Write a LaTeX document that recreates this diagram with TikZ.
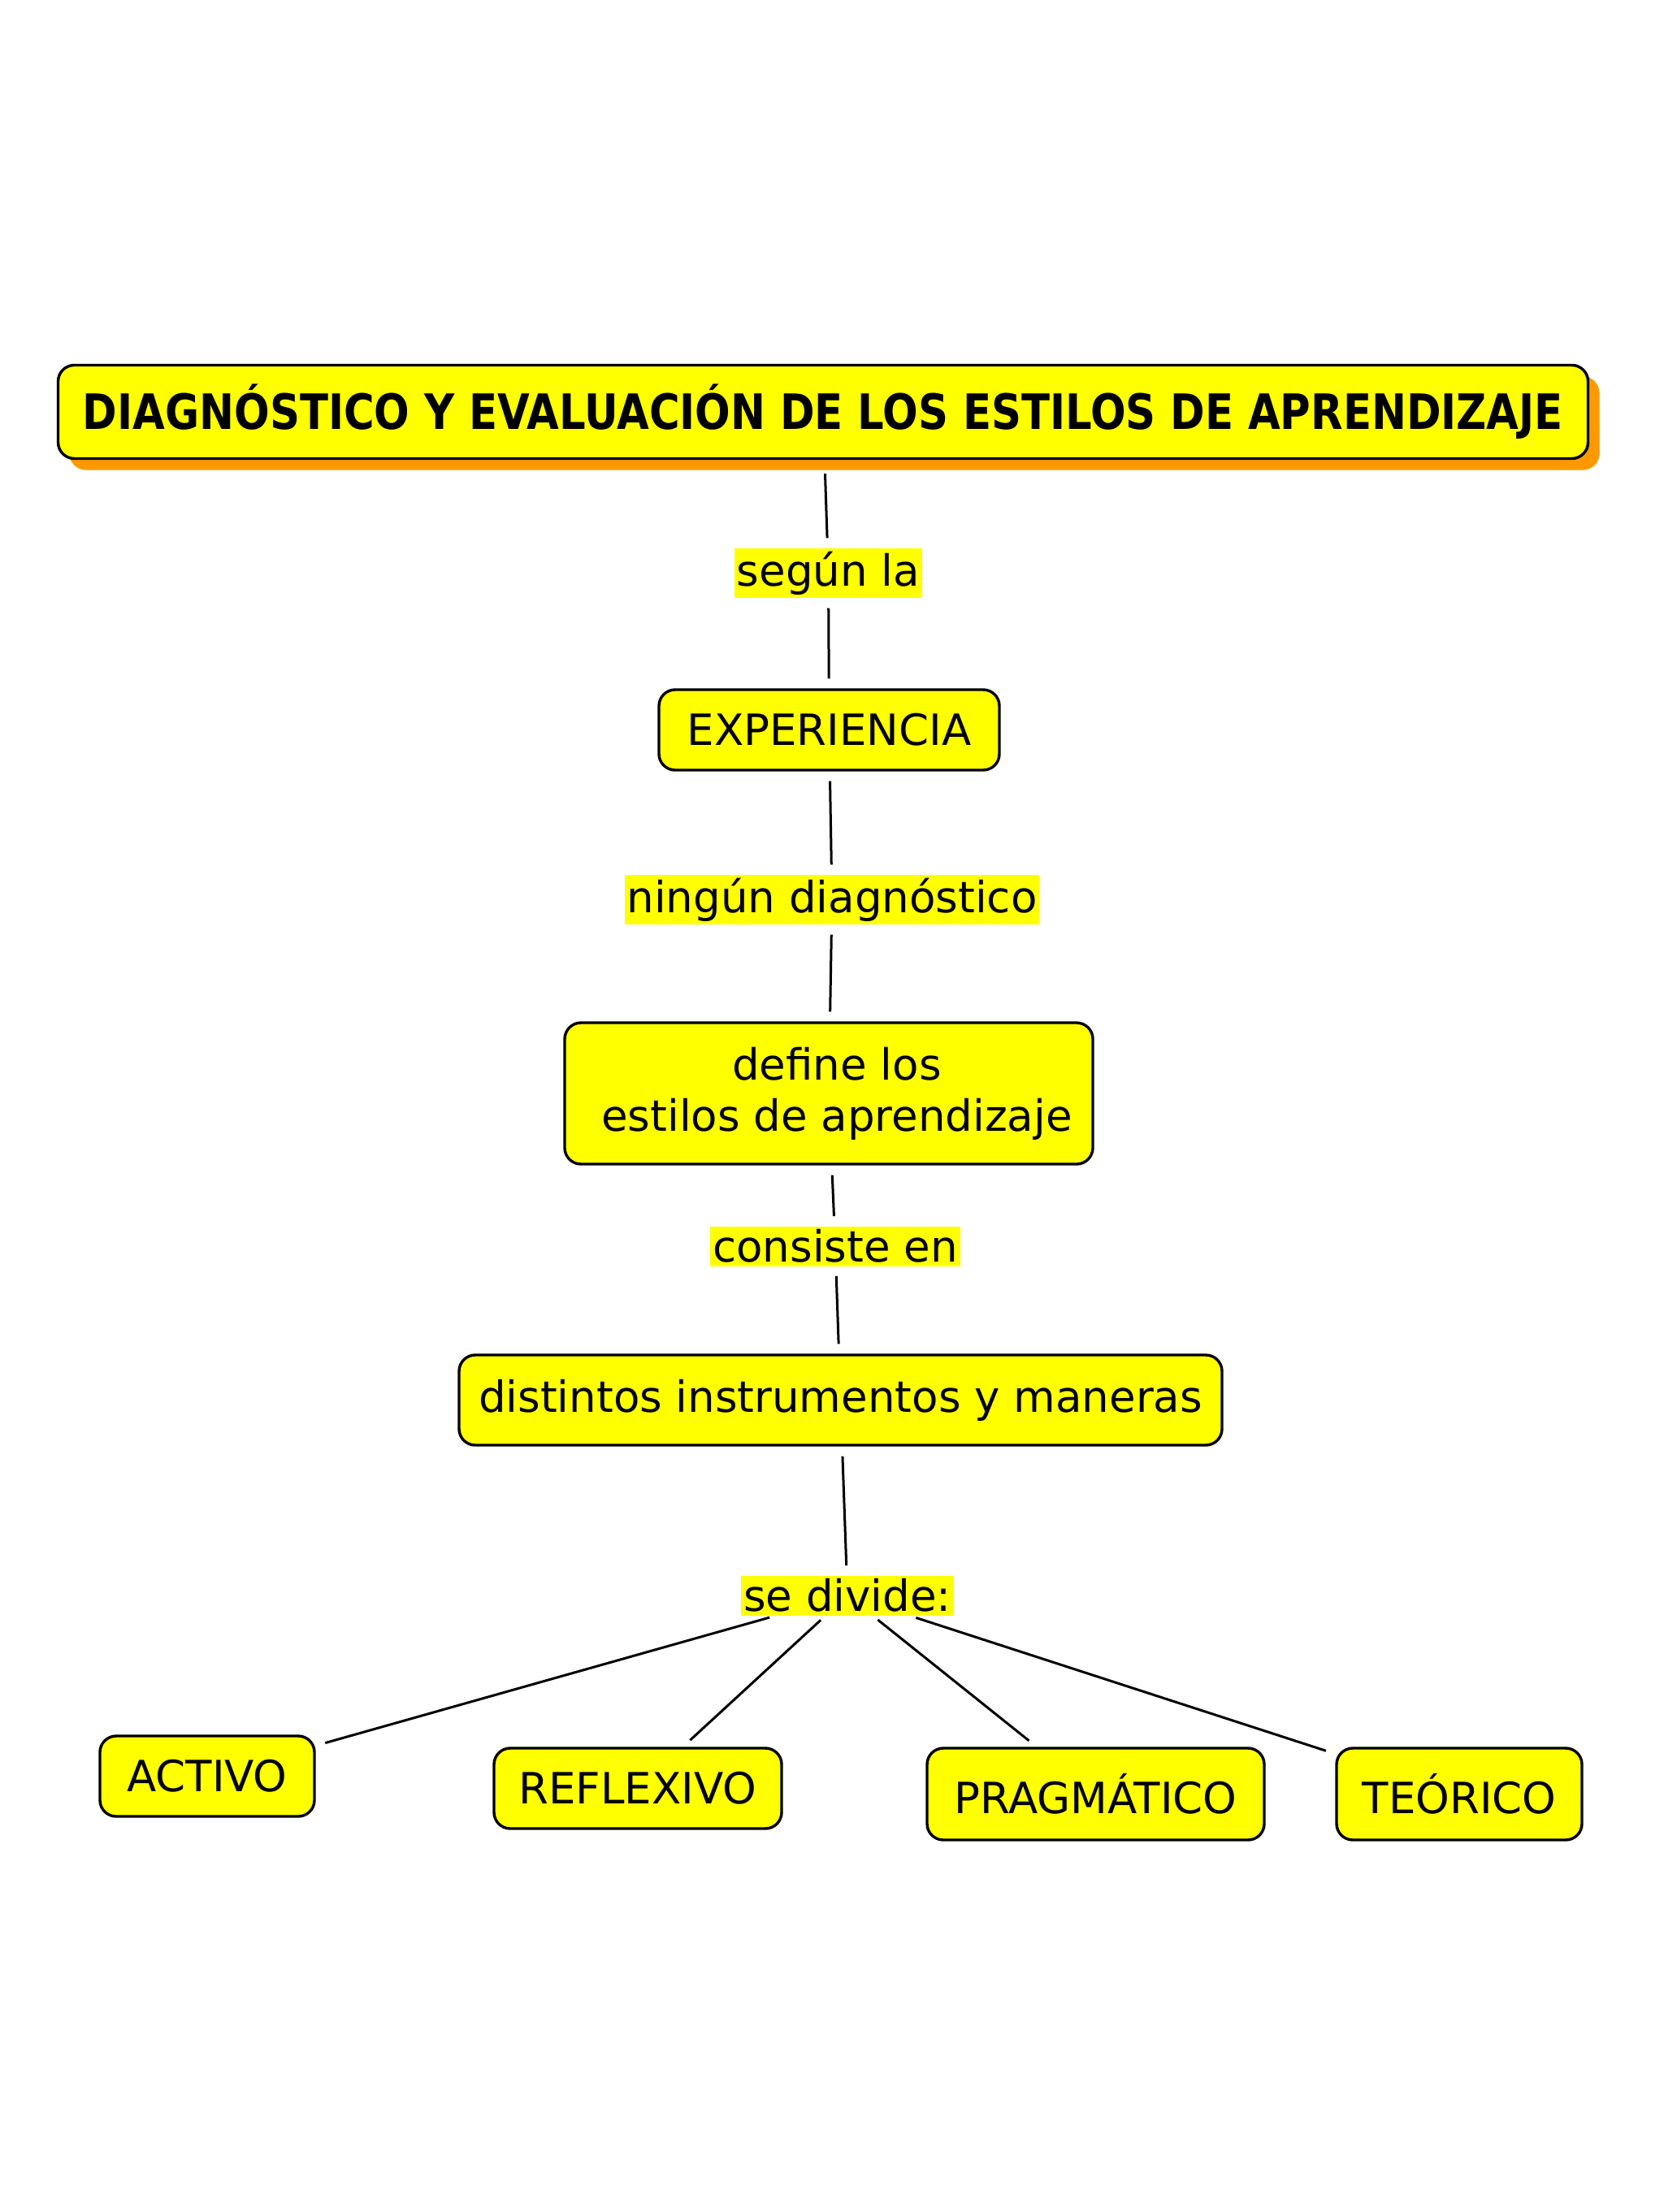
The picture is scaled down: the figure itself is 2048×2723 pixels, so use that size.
\documentclass[tikz,border=0pt]{standalone}
\usepackage{fontspec}
\setmainfont{DejaVu Sans}
\usetikzlibrary{shadows}
\definecolor{cyel}{HTML}{FFFF00}
\definecolor{corange}{HTML}{FF9900}
\begin{document}
\begin{tikzpicture}[x=0.5pt,y=-0.5pt,
  concept/.style={draw=black, line width=1.7pt, fill=cyel, rounded corners=10pt,
    inner sep=0pt, align=center, font=\fontsize{26.5}{31.5}\selectfont},
  linkl/.style={fill=cyel, inner xsep=1.5pt, inner ysep=2pt,
    font=\fontsize{26.5}{31.5}\selectfont},
  conn/.style={line width=1.5pt, shorten <=6pt, shorten >=6pt}]
\useasboundingbox[fill=white] (0,0) rectangle (2048,2723);

% concept nodes
\node[concept, minimum width=941.5pt, minimum height=57.5pt,
  drop shadow={shadow xshift=7pt, shadow yshift=-7pt, fill=corange, draw=none, opacity=1}]
  (title) at (1013,507)
  {\resizebox{911pt}{\height}{\fontsize{30}{34}\selectfont\bfseries DIAGNÓSTICO Y EVALUACIÓN DE LOS ESTILOS DE APRENDIZAJE}};
\node[concept, minimum width=209.5pt, minimum height=49.5pt] (exp) at (1020.5,898.5) {EXPERIENCIA};
\node[concept, minimum width=325pt, minimum height=87pt] (def) at (1020,1346) {\hspace*{10pt}define los\\\hspace*{10pt}estilos de aprendizaje};
\node[concept, minimum width=469.5pt, minimum height=55.5pt] (dis) at (1034.5,1723.5) {distintos instrumentos y maneras};
\node[concept, minimum width=132pt, minimum height=49.5pt] (act) at (255,2186.5) {ACTIVO};
\node[concept, minimum width=177pt, minimum height=49.5pt] (ref) at (785,2201.5) {REFLEXIVO};
\node[concept, minimum width=207.5pt, minimum height=56.5pt] (pra) at (1348.5,2208.5) {PRAGMÁTICO};
\node[concept, minimum width=151pt, minimum height=56.5pt] (teo) at (1796,2208.5) {TEÓRICO};

% linking phrases
\node[linkl] (sg) at (1019.5,705.5) {según la};
\node[linkl] (ng) at (1024,1107.5) {ningún diagnóstico};
\node[linkl] (cs) at (1028,1534) {consiste en};
\node[linkl] (sd) at (1043,1964) {se divide:};

% connectors
\draw[conn, shorten <=8.5pt] (title) -- (sg);
\draw[conn] (sg) -- (exp);
\draw[conn] (exp) -- (ng);
\draw[conn] (ng) -- (def);
\draw[conn] (def) -- (cs);
\draw[conn] (cs) -- (dis);
\draw[conn] (dis) -- (sd);
\draw[conn, shorten <=4pt] (sd) -- (act);
\draw[conn, shorten <=4pt] (sd) -- (ref);
\draw[conn, shorten <=4pt] (sd) -- (pra);
\draw[conn, shorten <=4pt] (sd) -- (teo);
\end{tikzpicture}
\end{document}
